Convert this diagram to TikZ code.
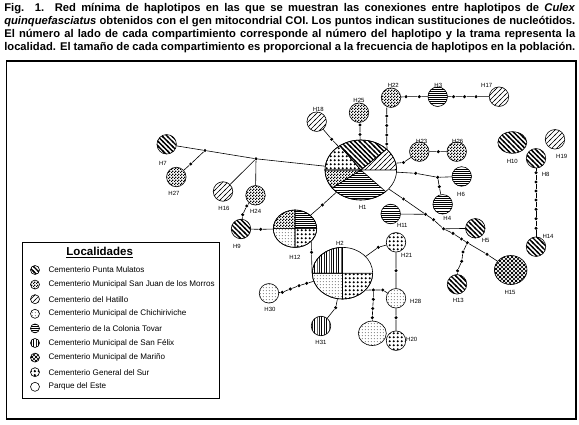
\documentclass[tikz,border=0pt]{standalone}
\usepackage{fontspec}
\setmainfont{Liberation Sans}
\newfontfamily\capfont{Liberation Sans}
\usepackage{tikz}
\usetikzlibrary{patterns,shapes.geometric,positioning}

% tramas de las localidades
\pgfdeclarepatternformonly{mulatos}{\pgfqpoint{-1pt}{-1pt}}{\pgfqpoint{5.8pt}{5.8pt}}{\pgfqpoint{4.8pt}{4.8pt}}{%
  \pgfsetlinewidth{1.4pt}\pgfpathmoveto{\pgfqpoint{-1pt}{5.8pt}}\pgfpathlineto{\pgfqpoint{5.8pt}{-1pt}}\pgfusepath{stroke}}
\pgfdeclarepatternformonly{hatillo}{\pgfqpoint{-1pt}{-1pt}}{\pgfqpoint{6pt}{6pt}}{\pgfqpoint{5pt}{5pt}}{%
  \pgfsetlinewidth{0.55pt}\pgfpathmoveto{\pgfqpoint{-1pt}{-1pt}}\pgfpathlineto{\pgfqpoint{6pt}{6pt}}\pgfusepath{stroke}}
\pgfdeclarepatternformonly{marino}{\pgfqpoint{-1pt}{-1pt}}{\pgfqpoint{5pt}{5pt}}{\pgfqpoint{4pt}{4pt}}{%
  \pgfsetlinewidth{0.4pt}\pgfpathmoveto{\pgfqpoint{-1pt}{-1pt}}\pgfpathlineto{\pgfqpoint{5pt}{5pt}}
  \pgfpathmoveto{\pgfqpoint{-1pt}{5pt}}\pgfpathlineto{\pgfqpoint{5pt}{-1pt}}\pgfusepath{stroke}}
\pgfdeclarepatternformonly{tovar}{\pgfqpoint{-0.5pt}{-0.5pt}}{\pgfqpoint{1.5pt}{0.5pt}}{\pgfqpoint{1pt}{2.1pt}}{%
  \pgfsetlinewidth{0.45pt}\pgfpathmoveto{\pgfqpoint{-0.5pt}{0pt}}\pgfpathlineto{\pgfqpoint{1.5pt}{0pt}}\pgfusepath{stroke}}
\pgfdeclarepatternformonly{sanfelix}{\pgfqpoint{-0.5pt}{-0.5pt}}{\pgfqpoint{0.5pt}{1.5pt}}{\pgfqpoint{2.4pt}{1pt}}{%
  \pgfsetlinewidth{0.55pt}\pgfpathmoveto{\pgfqpoint{0pt}{-0.5pt}}\pgfpathlineto{\pgfqpoint{0pt}{1.5pt}}\pgfusepath{stroke}}
\pgfdeclarepatternformonly{chichi}{\pgfqpoint{0pt}{0pt}}{\pgfqpoint{3.2pt}{3.2pt}}{\pgfqpoint{3.2pt}{3.2pt}}{%
  \pgfpathcircle{\pgfqpoint{1.6pt}{1.6pt}}{0.5pt}\pgfusepath{fill}}
\pgfdeclarepatternformonly{gensur}{\pgfqpoint{0pt}{0pt}}{\pgfqpoint{3.7pt}{3.7pt}}{\pgfqpoint{3.7pt}{3.7pt}}{%
  \pgfpathcircle{\pgfqpoint{1.85pt}{1.85pt}}{1.25pt}\pgfusepath{fill}}
\pgfdeclarepatternformonly{sanjuan}{\pgfqpoint{0pt}{0pt}}{\pgfqpoint{3pt}{3pt}}{\pgfqpoint{3pt}{3pt}}{%
  \pgfpathrectangle{\pgfqpoint{0pt}{0pt}}{\pgfqpoint{1.5pt}{1.5pt}}
  \pgfpathrectangle{\pgfqpoint{1.5pt}{1.5pt}}{\pgfqpoint{1.5pt}{1.5pt}}\pgfusepath{fill}}

\begin{document}
\begin{tikzpicture}[x=1pt,y=-1pt,line width=0.6pt,
    hap/.style={circle,draw,inner sep=0pt,minimum size=19.5pt},
    bighap/.style={ellipse,draw,inner sep=0pt},
    snp/.style={circle,fill,inner sep=0pt,minimum size=3.4pt},
    hlbl/.style={font=\fontsize{6}{7}\selectfont,inner sep=0pt},
    capline/.style={anchor=base west,inner sep=0pt,font=\capfont\bfseries\fontsize{11.2}{13}\selectfont},
    key/.style={circle,draw,inner sep=0pt,minimum size=9pt},
    keytext/.style={font=\fontsize{8.1}{9}\selectfont,inner sep=0pt}]
  \useasboundingbox (0,0) rectangle (579,425);

  % leyenda de la figura
  \node[capline] (cap1) at (4,12) {\makebox[571pt][s]{Fig. 1. Red mínima de haplotipos en las que se muestran las conexiones entre haplotipos de \textit{Culex}}};
  \node[capline] (cap2) at (4,25) {\makebox[571pt][s]{\textit{quinquefasciatus} obtenidos con el gen mitocondrial COI. Los puntos indican sustituciones de nucleótidos.}};
  \node[capline] (cap3) at (4,38) {\makebox[571pt][s]{El número al lado de cada compartimiento corresponde al número del haplotipo y la trama representa la}};
  \node[capline] (cap4) at (4,51) {\makebox[571pt][s]{localidad. El tamaño de cada compartimiento es proporcional a la frecuencia de haplotipos en la población.}};
  \draw[line width=1.1pt] (6.7,61) rectangle (576,419);

  % haplotipos compartidos
  \node[bighap,minimum width=71.6pt,minimum height=60pt] (H1) at (360.8,170) {};
  \node[bighap,minimum width=60.4pt,minimum height=51.6pt] (H2) at (342.5,273.2) {};
  \node[bighap,minimum width=43.4pt,minimum height=37.4pt] (H12) at (295,228.7) {};
  \foreach \a/\b/\p in {0/44/hatillo,44/126/mulatos,126/180/gensur,180/217/sanjuan,217/314/tovar}
    \draw[pattern=\p] (H1.center) -- ++(\a:35.8pt and 30pt) arc[start angle=\a,end angle=\b,x radius=35.8pt,y radius=30pt] -- cycle;
  \foreach \a/\b/\p in {90/180/sanfelix,180/270/chichi,270/360/gensur}
    \draw[pattern=\p] (H2.center) -- ++(\a:30.2pt and 25.8pt) arc[start angle=\a,end angle=\b,x radius=30.2pt,y radius=25.8pt] -- cycle;
  \foreach \a/\b/\p in {0/90/tovar,90/180/sanjuan,180/270/chichi,270/360/gensur}
    \draw[pattern=\p] (H12.center) -- ++(\a:21.7pt and 18.7pt) arc[start angle=\a,end angle=\b,x radius=21.7pt,y radius=18.7pt] -- cycle;

  % haplotipos de una sola localidad
  \node[bighap,pattern=marino,minimum width=32.6pt,minimum height=29pt] (H15) at (510.7,270) {};
  \node[bighap,pattern=mulatos,minimum width=29pt,minimum height=21.6pt] (H10) at (512.3,142.5) {};
  \node[bighap,pattern=chichi,minimum width=28pt,minimum height=24.4pt] (H29) at (372.3,333.3) {};
  \foreach \n/\x/\y in {H7/166.7/144.3,H9/241/229,H5/475.3/228.3,H13/457/284.3,H14/536/246.7,H8/536/158.3}
    \node[hap,pattern=mulatos] (\n) at (\x,\y) {};
  \foreach \n/\x/\y in {H27/176.3/177,H24/255.5/195.3,H25/359/112.7,H22/391/97.7,H23/419.3/151.7,H26/456.7/151.7}
    \node[hap,pattern=sanjuan] (\n) at (\x,\y) {};
  \foreach \n/\x/\y in {H16/223/191.5,H18/316.7/121.7,H17/499/96.7,H19/555/139.3}
    \node[hap,pattern=hatillo] (\n) at (\x,\y) {};
  \foreach \n/\x/\y in {H3/437.7/96.7,H6/461.7/176.5,H4/442.7/204.3,H11/390.7/214}
    \node[hap,pattern=tovar] (\n) at (\x,\y) {};
  \foreach \n/\x/\y in {H28/396/298.3,H30/269/293.3}
    \node[hap,pattern=chichi] (\n) at (\x,\y) {};
  \foreach \n/\x/\y in {H21/396/242.3,H20/396/340.7}
    \node[hap,pattern=gensur] (\n) at (\x,\y) {};
  \node[hap,pattern=sanfelix] (H31) at (321,326) {};

  \foreach \n/\x/\y in {H1/362.7/207.3,H2/340/243.3,H3/438.3/85,H4/447.3/218.3,H5/485.7/240,H6/461/194.3,
      H7/163/163,H8/545.7/174.3,H9/237/246,H10/512.3/161.7,H11/402.3/225.7,H12/295/257,H13/458.3/300,
      H14/548/236,H15/510/292.7,H16/224/208.7,H17/486.7/85,H18/318.3/109.3,H19/561.7/156.7,H20/411.7/339,
      H21/406.7/255,H22/393.3/85,H23/421.7/141.7,H24/255.6/211,H25/359/100,H26/457.7/141.7,H27/174/193.6,
      H28/415.7/301.7,H30/270/309,H31/321/342.7}
    \node[hlbl] (t\n) at (\x,\y) {\n};

  % sustituciones
  \foreach \n/\x/\y in {a1/205/150.5,a2/190.7/164,a3/256/158.8,a4/246.7/206,a5/242.7/214.7,a6/260.7/229.3,
      a7/322.3/205,a8/311.5/252.3,a9/306.7/283.3,a10/299/285.7,a11/290.3/289,a12/282.3/292.3,a13/335.7/307.7,
      a14/378.3/247.3,a15/396/270.7,a16/396/317.7,a17/373.3/290,a18/382.7/290,a19/373.3/299.3,a20/372.7/308.5,
      a21/372.3/317.7,a22/331.7/139.3,a23/360/125,a24/360/134.5,a25/386.7/116,a26/386.7/125.5,a27/386.7/135,
      a28/386.7/144,a29/406/96.7,a30/419.3/96.7,a31/453.5/96.7,a32/464.5/96.7,a33/476/96.7,a34/403.5/162.5,
      a35/438.3/151.7,a36/415.7/173.3,a37/437.7/177.3,a38/439.3/186.7,a39/403.5/199,a40/425.5/214.3,
      a41/433.5/219.7,a42/443.5/228.8,a43/453/233.4,a44/461.5/239,a45/467.3/242.7,a46/487/254.3,
      a47/463/252,a48/461.7/261.3,a49/457.5/270.8}
    \node[snp] (\n) at (\x,\y) {};
  \foreach \i/\y in {1/172.7,2/182,3/191,4/200,5/209.3,6/218.7,7/228.3}
    \node[snp] (b\i) at (536,\y) {};

  \draw (H7) -- (a1) -- (a3) -- (H1);
  \draw (a1) -- (a2) -- (H27);
  \draw (a3) -- (H16);
  \draw (a3) -- (H24) -- (a4) -- (a5) -- (H9) -- (a6) -- (H12) -- (a7) -- (H1);
  \draw (H12.-38) -- (a8) -- (H2.west);
  \draw (H2) -- (a9) -- (a10) -- (a11) -- (a12) -- (H30);
  \draw (H2) -- (a13) -- (H31);
  \draw (H2) -- (a14) -- (H21) -- (a15) -- (H28) -- (a16) -- (H20);
  \draw (H2.-36) -- (a17) -- (a18) -- (H28);
  \draw (a17) -- (a19) -- (a20) -- (a21) -- (H29);
  \draw (H18) -- (a22) -- (H1);
  \draw (H25) -- (a23) -- (a24) -- (H1);
  \draw (H1.38) -- (a28) -- (a27) -- (a26) -- (a25) -- (a25 |- H22.south);
  \draw (H22) -- (a29) -- (a30) -- (H3) -- (a31) -- (a32) -- (a33) -- (H17);
  \draw (H1.11) -- (a34) -- (H23) -- (a35) -- (H26);
  \draw (H1) -- (a36) -- (a37) -- (H6);
  \draw (a37) -- (a38) -- (H4);
  \draw (H1) -- (a39) -- (a40) -- (a41) -- (a42) -- (a43) -- (a44) -- (a45) -- (a46) -- (H15);
  \draw (H11) -- (a40);
  \draw (a42) -- (H5);
  \draw (a45) -- (a47) -- (a48) -- (a49) -- (H13);
  \draw (H8) -- (b1) -- (b2) -- (b3) -- (b4) -- (b5) -- (b6) -- (b7) -- (H14);

  % localidades
  \draw (22.7,242) rectangle (219,398);
  \node[font=\bfseries\fontsize{11.5}{13}\selectfont,inner sep=0pt] (ktitle) at (99.7,252.7) {\underline{Localidades}};
  \foreach \p/\t [count=\i] in {mulatos/Cementerio Punta Mulatos,sanjuan/Cementerio Municipal San Juan de los Morros,
      hatillo/Cementerio del Hatillo,chichi/Cementerio Municipal de Chichiriviche,tovar/Cementerio de la Colonia Tovar,
      sanfelix/Cementerio Municipal de San Félix,marino/Cementerio Municipal de Mariño,gensur/Cementerio General del Sur}{
    \node[key,pattern=\p] (key\i) at (35,255.4+14.6*\i) {};
    \node[keytext,right=8.5pt of key\i] (keyt\i) {\t};
  }
  \node[key] (key9) at (35,386.8) {};
  \node[keytext,right=8.5pt of key9] (keyt9) {Parque del Este};
\end{tikzpicture}
\end{document}
